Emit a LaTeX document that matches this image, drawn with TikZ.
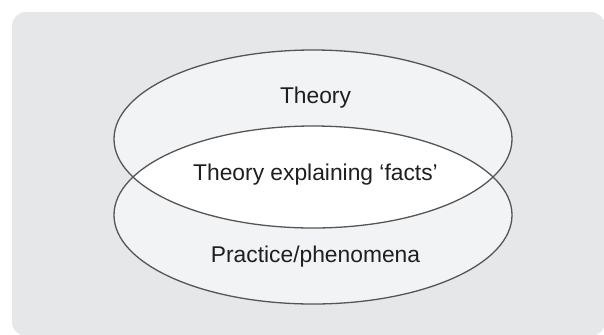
\documentclass[tikz,border=0pt]{standalone}
\usepackage{fontspec}
\setmainfont{Liberation Sans}
\usepackage{tikz}
\usetikzlibrary{positioning,shapes.geometric}
\definecolor{vennPanel}{RGB}{230,231,233}
\definecolor{vennFill}{RGB}{242,243,245}
\definecolor{vennLine}{RGB}{85,85,85}

\tikzset{
  vennset/.style={draw=vennLine, line width=0.65pt},
  vennlabel/.style={anchor=base, inner sep=0pt, text=black!88,
    font=\fontsize{11.4pt}{13pt}\selectfont},
}

\begin{document}
\begin{tikzpicture}[x=0.5pt, y=0.5pt]
  \clip (0,0) rectangle (604,334);
  % panel
  \fill[vennPanel, rounded corners=7pt] (12,-2) rectangle (605,322);
  % the two sets
  \fill[vennFill] (313,195) ellipse [x radius=199, y radius=89];
  \fill[vennFill] (313,119) ellipse [x radius=199, y radius=89];
  \begin{scope}
    \clip (313,195) ellipse [x radius=199, y radius=89];
    \fill[white] (313,119) ellipse [x radius=199, y radius=89];
  \end{scope}
  \draw[vennset] (313,195) ellipse [x radius=199, y radius=89];
  \draw[vennset] (313,119) ellipse [x radius=199, y radius=89];
  % labels
  \node[vennlabel] (theory) at (315.5,231) {Theory};
  \node[vennlabel] (overlap) at (315.5,154) {Theory explaining ‘facts’};
  \node[vennlabel] (practice) at (315.5,72) {Practice/phenomena};
\end{tikzpicture}
\end{document}
